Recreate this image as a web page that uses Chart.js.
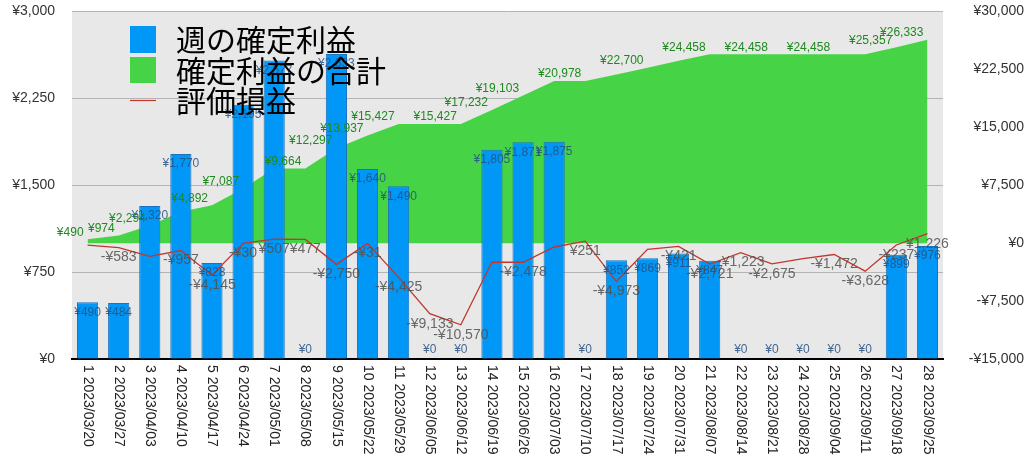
<!DOCTYPE html>
<html>
<head>
<meta charset="utf-8">
<script src="https://cdn.jsdelivr.net/npm/chart.js@4.4.1/dist/chart.umd.min.js"></script>
<style>
html,body{margin:0;padding:0;background:#fff;}
#wrap{width:1024px;height:468px;position:relative;}
</style>
</head>
<body>
<div id="wrap"><canvas id="c" width="1024" height="468"></canvas></div>
<script>
// ---- data ----
const weekNos = [1,2,3,4,5,6,7,8,9,10,11,12,13,14,15,16,17,18,19,20,21,22,23,24,25,26,27,28];
const weekDates = ["2023/03/20","2023/03/27","2023/04/03","2023/04/10","2023/04/17","2023/04/24","2023/05/01","2023/05/08","2023/05/15","2023/05/22","2023/05/29","2023/06/05","2023/06/12","2023/06/19","2023/06/26","2023/07/03","2023/07/10","2023/07/17","2023/07/24","2023/07/31","2023/08/07","2023/08/14","2023/08/21","2023/08/28","2023/09/04","2023/09/11","2023/09/18","2023/09/25"];
const weeklyProfit = [490,484,1320,1770,828,2195,2577,0,2633,1640,1490,0,0,1805,1871,1875,0,852,869,911,847,0,0,0,0,0,899,976];
const cumulativeProfit = [490,974,2294,4064,4892,7087,9664,9664,12297,13937,15427,15427,15427,17232,19103,20978,20978,21830,22700,23611,24458,24458,24458,24458,24458,24458,25357,26333];
const unrealizedPL = [-250,-583,-1700,-957,-4145,-30,507,477,-2750,-31,-4425,-9133,-10570,-2450,-2478,-500,251,-4973,-800,-421,-2721,-1223,-2675,-2000,-1472,-3628,-237,1226];
const leftTicks = [0,750,1500,2250,3000];
const rightTicks = [-15000,-7500,0,7500,15000,22500,30000];
const seriesNames = ["週の確定利益","確定利益の合計","評価損益"];
// which value labels are visible in the reference (others are hidden by overlap)
const cumLabelShown = [1,1,1,0,1,1,0,1,1,1,1,0,1,1,1,0,1,0,1,0,1,0,1,0,1,0,1,1];
const plLabelShown  = [0,1,0,1,1,1,1,1,1,1,1,1,1,0,1,0,1,1,0,1,1,1,1,0,1,1,1,1];

const categories = weekNos.map((n,i)=> n + " " + weekDates[i]);

const NUM_FONT = "'Liberation Sans', Arial, sans-serif";
const JP_FONT = "'Noto Sans CJK JP', sans-serif";
const BLUE = '#0097f6', BLUE_EDGE = '#1a72bd', GREEN = '#46d446', RED = '#c2362b';

function yen(v){ const s = '¥' + Math.abs(v).toLocaleString('en-US'); return v < 0 ? '-' + s : s; }

const overlay = {
  id: 'overlay',
  beforeDraw(chart){
    const {ctx, chartArea:a} = chart;
    ctx.save();
    ctx.fillStyle = '#e8e8e8';
    ctx.fillRect(a.left, a.top, a.right-a.left, a.bottom-a.top);
    ctx.restore();
  },
  afterDraw(chart){
    const ctx = chart.ctx;
    const x = chart.scales.x;
    ctx.save();
    // rotated category labels (clockwise)
    ctx.fillStyle = '#222';
    ctx.font = '14px ' + NUM_FONT;
    ctx.textAlign = 'left';
    ctx.textBaseline = 'middle';
    categories.forEach((lab,i)=>{
      const px = x.getPixelForValue(i);
      ctx.save();
      ctx.translate(px, 365);
      ctx.rotate(Math.PI/2);
      ctx.fillText(lab, 0, 0);
      ctx.restore();
    });
    // bar labels
    const barMeta = chart.getDatasetMeta(0);
    const base = chart.scales.y.getPixelForValue(0);
    ctx.font = '12px ' + NUM_FONT;
    ctx.fillStyle = 'rgba(35,80,130,0.85)';
    ctx.textAlign = 'center';
    barMeta.data.forEach((el,i)=>{
      const ty = Math.min(el.y + 10, base - 9);
      ctx.fillText(yen(weeklyProfit[i]), el.x, ty);
    });
    // cumulative labels
    const cumMeta = chart.getDatasetMeta(1);
    ctx.fillStyle = '#1d8a1d';
    ctx.textAlign = 'right';
    cumMeta.data.forEach((el,i)=>{
      if (!cumLabelShown[i]) return;
      ctx.fillText(yen(cumulativeProfit[i]), el.x - 4, el.y - 7);
    });
    // unrealized labels
    const plMeta = chart.getDatasetMeta(2);
    ctx.font = '14px ' + NUM_FONT;
    ctx.fillStyle = 'rgba(80,80,80,0.85)';
    ctx.textAlign = 'center';
    plMeta.data.forEach((el,i)=>{
      if (!plLabelShown[i]) return;
      ctx.fillText(yen(unrealizedPL[i]), el.x, el.y + 10);
    });
    // legend
    ctx.font = '30px ' + JP_FONT;
    ctx.textAlign = 'left';
    ctx.textBaseline = 'middle';
    ctx.fillStyle = BLUE; ctx.fillRect(130, 26, 26, 27);
    ctx.fillStyle = GREEN; ctx.fillRect(130, 57, 26, 26);
    ctx.strokeStyle = RED; ctx.lineWidth = 1.2;
    ctx.beginPath(); ctx.moveTo(130, 100.5); ctx.lineTo(156, 100.5); ctx.stroke();
    ctx.fillStyle = '#000';
    const rows = [40, 70.5, 101];
    seriesNames.forEach((n,i)=> ctx.fillText(n, 176, rows[i]));
    ctx.restore();
  }
};

new Chart(document.getElementById('c'), {
  data: {
    labels: categories,
    datasets: [
      { type:'bar', label: seriesNames[0], data: weeklyProfit, yAxisID:'y', order:1,
        backgroundColor: BLUE, borderColor: BLUE_EDGE, borderWidth: 1,
        barPercentage: 0.85, categoryPercentage: 0.8 },
      { type:'line', label: seriesNames[1], data: cumulativeProfit, yAxisID:'y1', order:2,
        backgroundColor: GREEN, borderColor: GREEN, borderWidth: 0, pointRadius: 0, fill: 'origin', tension: 0 },
      { type:'line', label: seriesNames[2], data: unrealizedPL, yAxisID:'y1', order:0,
        borderColor: RED, borderWidth: 1.3, pointRadius: 0, fill: false, tension: 0 }
    ]
  },
  options: {
    responsive: false,
    animation: false,
    layout: { padding: { top: 0, left: 0, right: 0, bottom: 0 } },
    plugins: { legend: { display: false }, tooltip: { enabled: false } },
    scales: {
      x: {
        type: 'category',
        grid: { display: false },
        border: { display: true, color: '#000', width: 2 },
        ticks: { display: false },
        afterFit(s){ s.height = 109; }
      },
      y: {
        position: 'left', min: 0, max: 3000,
        afterBuildTicks(s){ s.ticks = leftTicks.map(v=>({value:v})); },
        grid: { color: '#b4b4b4', lineWidth: 1, drawTicks: true, tickLength: 14, tickColor: 'rgba(0,0,0,0)' },
        border: { display: false },
        ticks: { padding: 3, color: '#333', font: { family: NUM_FONT, size: 14 }, callback: v => yen(v) },
        afterFit(s){ s.width = 72; }
      },
      y1: {
        position: 'right', min: -15000, max: 30000,
        afterBuildTicks(s){ s.ticks = rightTicks.map(v=>({value:v})); },
        grid: { display: false, drawTicks: true, tickLength: 14, tickColor: 'rgba(0,0,0,0)' },
        border: { display: false },
        ticks: { padding: 3, crossAlign: 'far', color: '#333', font: { family: NUM_FONT, size: 14 }, callback: v => yen(v) },
        afterFit(s){ s.width = 81; }
      }
    }
  },
  plugins: [overlay]
});
</script>
</body>
</html>
